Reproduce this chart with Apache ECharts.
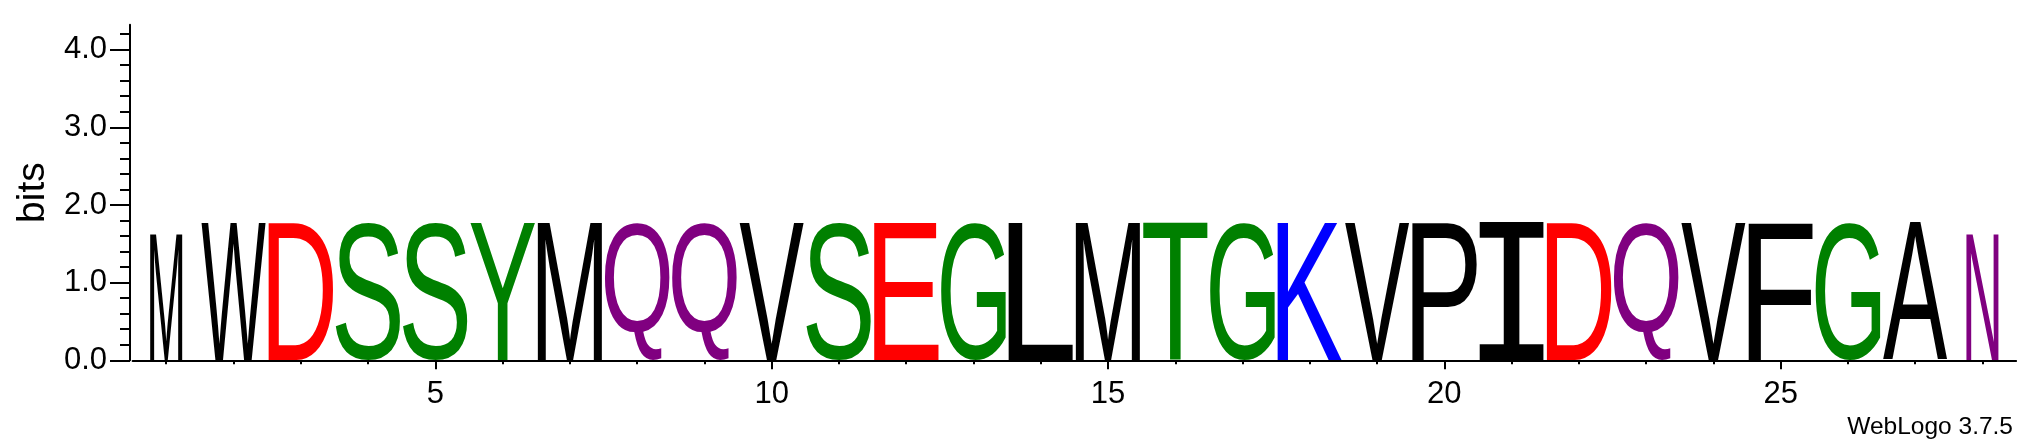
<!DOCTYPE html>
<html>
<head>
<meta charset="utf-8">
<script src="https://cdn.jsdelivr.net/npm/echarts@6/dist/echarts.min.js"></script>
<style>
html,body{margin:0;padding:0;background:#fff}
#chart{width:2039px;height:444px}
</style>
</head>
<body>
<div id="chart"></div>
<script>
// one letter per column
var letters=['M','W','D','S','S','Y','M','Q','Q','V','S','E','G','L','M','T','G','K','V','P','I','D','Q','V','F','G','A','N'];
var bits=[1.62,1.77,1.77,1.77,1.77,1.77,1.77,1.77,1.77,1.77,1.77,1.77,1.77,1.77,1.77,1.77,1.77,1.77,1.77,1.77,1.77,1.77,1.77,1.77,1.77,1.77,1.77,1.62];
// column width (fraction of non-gap symbols)
var weight=[0.5,1,1,1,1,1,1,1,1,1,1,1,1,1,1,1,1,1,1,1,1,1,1,1,1,1,1,0.5];
var xLabelTicks=[5,10,15,20,25];
var yLabelTicks=[0,1,2,3,4];
var yMax=4.32;

// chemistry colour scheme
var colorOf={};
'GSTYC'.split('').forEach(function(c){colorOf[c]='#008000'});
'NQ'.split('').forEach(function(c){colorOf[c]='#800080'});
'KRH'.split('').forEach(function(c){colorOf[c]='#0000ff'});
'DE'.split('').forEach(function(c){colorOf[c]='#ff0000'});
'AVLIPWFM'.split('').forEach(function(c){colorOf[c]='#000000'});

var xMinor=[];
for(var i=1;i<=letters.length;i++) xMinor.push(i);
var yMinor=[];
for(var j=1;j<=21;j++){ if(j%5) yMinor.push(+(j*0.2).toFixed(1)); }

var FS=200;
var mctx=document.createElement('canvas').getContext('2d');
function fontFor(ch){
  return ch==='I' ? FS+'px "DejaVu Sans Mono"' : FS+'px "Liberation Sans"';
}
var inkCache={};
function ink(ch){
  if(inkCache[ch]) return inkCache[ch];
  mctx.font=fontFor(ch);
  mctx.textBaseline='middle';
  mctx.textAlign='left';
  var m=mctx.measureText(ch);
  inkCache[ch]={l:m.actualBoundingBoxLeft,r:m.actualBoundingBoxRight,a:m.actualBoundingBoxAscent,d:m.actualBoundingBoxDescent};
  return inkCache[ch];
}

// stretch each glyph's ink box to fill its stack rectangle
function renderLetter(params,api){
  var ch=letters[params.dataIndex];
  var p=api.value(0), h=api.value(1), w=api.value(2)*0.48;
  var a=api.coord([p-w,h]), b=api.coord([p+w,0]);
  var k=ink(ch);
  var sx=(b[0]-a[0])/(k.l+k.r), sy=(b[1]-a[1])/(k.a+k.d);
  return {
    type:'text',
    x:a[0]+k.l*sx, y:a[1]+k.a*sy,
    scaleX:sx, scaleY:sy,
    style:{text:ch,x:0,y:0,font:fontFor(ch),fill:colorOf[ch],align:'left',verticalAlign:'middle'}
  };
}

var data=letters.map(function(c,i){return [i+1,bits[i],weight[i]]});
var labelFont='"Liberation Sans", Arial, sans-serif';

var chart=echarts.init(document.getElementById('chart'),null,{renderer:'canvas'});
var option={
  animation:false,
  backgroundColor:'#ffffff',
  grid:{left:132.6,right:22.9,top:24.8,bottom:83.7,containLabel:false},
  xAxis:[{
    type:'value',min:0.5,max:28.5,position:'bottom',
    axisLine:{show:true,lineStyle:{color:'#000',width:2}},
    axisTick:{show:true,customValues:xLabelTicks,length:9,lineStyle:{color:'#000',width:2}},
    axisLabel:{show:true,customValues:xLabelTicks,fontSize:31,color:'#000',fontFamily:labelFont,margin:19},
    splitLine:{show:false}
  },{
    type:'value',min:0.5,max:28.5,position:'bottom',
    axisLine:{show:false},
    axisTick:{show:true,customValues:xMinor,length:4,lineStyle:{color:'#000',width:2}},
    axisLabel:{show:false},
    splitLine:{show:false}
  }],
  yAxis:[{
    type:'value',min:0,max:yMax,interval:1,position:'left',offset:2.6,
    name:'bits',nameLocation:'middle',nameGap:67,
    nameTextStyle:{fontSize:39,color:'#000',fontFamily:labelFont},
    axisLine:{show:true,lineStyle:{color:'#000',width:2}},
    axisTick:{show:true,customValues:yLabelTicks,length:20,lineStyle:{color:'#000',width:2}},
    axisLabel:{show:true,customValues:yLabelTicks,fontSize:31,color:'#000',fontFamily:labelFont,margin:23,
      padding:[3,0,0,0],
      formatter:function(v){return v.toFixed(1)}},
    splitLine:{show:false}
  },{
    type:'value',min:0,max:yMax,interval:1,position:'left',offset:2.6,
    axisLine:{show:false},
    axisTick:{show:true,customValues:yMinor,length:10,lineStyle:{color:'#000',width:2}},
    axisLabel:{show:false},
    splitLine:{show:false}
  }],
  graphic:[{
    type:'text',right:26,top:415,
    style:{text:'WebLogo 3.7.5',font:'24.5px "Liberation Sans", Arial, sans-serif',fill:'#000'}
  }],
  series:[{
    type:'custom',
    coordinateSystem:'cartesian2d',
    xAxisIndex:0,yAxisIndex:0,
    renderItem:renderLetter,
    data:data,
    clip:false
  }]
};
chart.setOption(option);
</script>
</body>
</html>
